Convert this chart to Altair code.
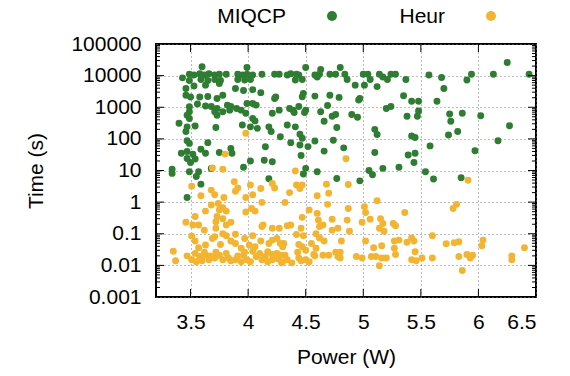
import altair as alt
import pandas as pd

# ---- data (Power in W, Time in s) ----
miqcp_power = [
    3.60, 3.99, 3.43, 3.49, 3.53, 3.58, 3.62, 3.66, 3.71, 3.75, 3.81, 3.91, 3.95, 3.99, 4.04, 4.12, 4.23, 4.27,
    3.49, 3.59, 3.65, 3.71, 3.76, 3.91, 3.97, 4.02,
    3.46, 3.53, 3.63, 3.75, 3.89, 3.96, 4.04, 4.11, 4.24,
    3.46, 3.50, 3.58, 3.65, 3.73, 3.78, 4.23,
    3.56, 3.49, 3.63, 3.68, 3.73, 3.82, 3.85, 3.90, 3.94, 3.99, 4.04, 4.07, 4.21, 4.27,
    3.49, 3.47, 3.49, 3.71, 3.73, 3.78, 3.84, 3.98, 4.04, 4.06,
    3.40, 3.47, 3.54, 3.46, 3.72, 3.95, 4.02, 4.08, 4.18, 4.20,
    3.47, 3.49, 3.65, 4.15, 4.28,
    3.42, 3.47, 3.52, 3.59, 3.63, 3.75, 3.85, 3.86, 3.47, 3.50, 3.54, 4.02, 4.14, 4.21,
    3.34, 3.34, 3.49, 3.57, 3.96, 3.55, 4.18, 3.68, 3.59, 3.47,
    4.50, 4.63, 4.80,
    4.34, 4.37, 4.42, 4.44, 4.41, 4.47, 4.58, 4.60, 4.62, 4.71, 4.76, 4.84, 4.86, 4.93, 5.00, 5.04, 5.01, 5.06,
    5.12, 5.14, 5.17, 5.21, 5.24, 5.28, 5.37,
    4.48, 4.47, 4.58, 4.71, 4.79, 4.97, 4.96, 5.35,
    4.36, 4.39, 4.40, 4.44, 4.50, 4.49, 4.63, 4.69, 4.73, 4.76, 4.90, 4.95, 5.20, 5.24, 5.38,
    4.34, 4.41, 4.66, 4.77, 4.45, 4.47, 4.37, 4.45, 4.52, 4.58, 4.74, 4.66, 4.83, 4.46, 5.10, 5.12, 5.10, 5.39,
    4.50, 4.48, 4.60, 4.77, 5.05, 5.08, 5.17, 5.31, 4.97,
    6.25, 5.57, 5.68, 5.94, 5.90, 6.13, 6.44, 5.70,
    5.42, 5.48, 5.64, 5.48, 5.47, 5.75, 5.86, 6.02, 5.76, 6.27, 5.82, 5.74, 5.42, 5.45, 6.17, 5.58, 5.97,
    5.45, 5.44, 5.54, 5.61, 5.85,
]
miqcp_time = [
    19000, 18000, 8500, 11000, 10500, 11500, 10500, 11500, 10500, 11000, 11000, 11000, 10500, 11000, 10500, 11000, 11000, 11000,
    7000, 7500, 7000, 7500, 7000, 7500, 7300, 7500,
    3900, 4700, 5000, 5600, 3900, 3400, 3600, 2900, 2100,
    2400, 2100, 2100, 2200, 1900, 2400, 1900,
    1260, 1040, 1100, 1050, 910, 1170, 1050, 910, 810, 1320, 1320, 1170, 650, 810,
    720, 560, 440, 720, 560, 720, 810, 650, 440, 370,
    310, 240, 255, 170, 230, 275, 240, 215, 240, 170,
    87, 72, 76, 56, 117,
    35, 40, 33, 47, 35, 37, 50, 35, 24, 18, 23, 20, 21, 19,
    11, 8.1, 9.1, 9.1, 12.6, 6.5, 5.5, 11.5, 3.7, 1.4,
    18000, 15600, 18000,
    10500, 11500, 11000, 10500, 7300, 7500, 10500, 9100, 11000, 11000, 11000, 11000, 7500, 5000, 11000, 11000, 5000, 7500,
    4500, 11000, 9100, 7500, 11000, 11000, 7500,
    2750, 2150, 2250, 2400, 2050, 1900, 1700, 2300,
    910, 810, 680, 1050, 810, 680, 720, 1130, 520, 590, 590, 480, 910, 1050, 520,
    275, 240, 360, 230, 140, 105, 76, 64, 57, 86, 91, 41, 52, 30, 200, 138, 37, 31,
    11.7, 7.8, 9.1, 5.6, 10, 7.3, 11.7, 12.6, 4.7,
    26000, 10500, 8700, 11000, 7300, 11000, 11000, 3900,
    1550, 1550, 1550, 760, 520, 610, 650, 540, 360, 260, 170, 133, 124, 110, 87, 60, 42,
    35, 18, 9.1, 5.4, 5.9,
]

heur_power = [
    3.98, 3.80,
    3.69, 3.78, 3.88, 3.51, 3.68, 3.59, 3.71, 3.79, 3.91, 3.89, 4.02, 4.11, 3.98, 4.04, 4.21, 4.23,
    4.12, 3.68, 3.74, 3.75, 3.63, 3.78, 3.81, 3.54, 3.73, 3.78, 3.72, 3.85, 3.98, 4.03, 4.06,
    3.46, 3.52, 3.57, 3.62, 3.81, 3.72, 3.78, 3.81, 3.89, 4.13, 4.12, 4.21, 4.27,
    3.51, 3.54, 3.57, 3.63, 3.69, 3.71, 3.76, 3.85, 3.89, 3.97, 4.04, 4.01, 3.94, 4.06, 4.11, 4.18, 4.21,
    4.25, 4.28, 4.17, 4.21, 3.35, 3.37,
    3.47, 3.51, 3.54, 3.55, 3.58, 3.60, 3.62, 3.63, 3.66, 3.67, 3.71, 3.72, 3.75, 3.78, 3.81, 3.83, 3.85,
    3.89, 3.91, 3.94, 3.96, 3.97, 3.99, 4.02, 4.04, 4.07, 4.10, 4.12, 4.15, 4.17, 4.21, 4.25, 4.26, 4.28, 4.29,
    4.85, 4.41,
    4.36, 4.42, 4.45, 4.47, 4.32, 4.60, 4.68, 4.70, 4.87, 4.69, 4.87, 5.01, 5.02, 5.12, 4.53, 4.60, 4.47,
    4.61, 4.73, 4.86, 5.06, 4.99, 5.15, 4.34, 4.37, 4.46, 4.62, 4.65, 4.73, 4.78, 4.88, 5.17, 5.14, 5.26,
    5.28, 5.36, 5.18,
    4.42, 4.48, 4.31, 4.30, 4.44, 4.47, 4.43, 4.50, 4.55, 4.59, 4.62, 4.66, 4.59, 4.57, 4.65, 4.70, 4.76,
    4.80, 4.81, 4.80, 4.78, 4.94, 4.99, 5.02, 5.09, 5.16, 5.07, 5.11, 5.16, 5.20, 5.14, 5.27, 5.31, 5.27,
    5.28, 5.38, 4.32, 4.34, 4.38, 4.30, 4.44, 4.46, 4.50, 4.53, 4.58,
    5.91, 5.81, 5.78, 5.42, 5.44, 5.60, 5.72, 5.79, 5.83, 6.04, 6.03, 6.40, 5.45, 5.42, 5.46, 5.51, 5.60,
    5.83, 5.90, 5.93, 5.95, 5.86, 6.29, 6.29,
]
heur_time = [
    150, 33,
    12, 11, 4.4, 3.2, 2.4, 1.6, 1.7, 1.4, 2.8, 2.2, 3.5, 2.7, 1.4, 1.7, 3.9, 2.8,
    0.98, 0.81, 0.91, 0.56, 0.52, 0.66, 0.52, 0.35, 0.35, 0.30, 0.24, 0.23, 0.49, 0.63, 0.52,
    0.23, 0.19, 0.19, 0.13, 0.19, 0.15, 0.10, 0.087, 0.096, 0.19, 0.17, 0.15, 0.15,
    0.085, 0.059, 0.036, 0.044, 0.071, 0.081, 0.046, 0.059, 0.049, 0.071, 0.087, 0.044, 0.035, 0.039, 0.059, 0.049, 0.063,
    0.071, 0.049, 0.027, 0.022, 0.028, 0.014,
    0.020, 0.015, 0.024, 0.013, 0.019, 0.014, 0.026, 0.021, 0.015, 0.020, 0.017, 0.026, 0.021, 0.015, 0.024, 0.017, 0.014,
    0.015, 0.020, 0.013, 0.021, 0.026, 0.015, 0.013, 0.028, 0.019, 0.024, 0.015, 0.019, 0.013, 0.015, 0.024, 0.016, 0.021, 0.012,
    23.6, 9.6,
    2.0, 3.5, 2.7, 3.5, 0.98, 1.6, 3.7, 1.9, 3.6, 0.85, 0.63, 0.71, 0.47, 1.1, 0.56, 0.44, 0.33,
    0.27, 0.29, 0.27, 0.29, 0.23, 0.30, 0.18, 0.19, 0.15, 0.17, 0.19, 0.13, 0.15, 0.12, 0.21, 0.15, 0.21,
    0.18, 0.47, 0.12,
    0.095, 0.087, 0.049, 0.039, 0.046, 0.039, 0.026, 0.030, 0.049, 0.10, 0.074, 0.059, 0.035, 0.022, 0.021, 0.021, 0.026,
    0.026, 0.059, 0.017, 0.019, 0.019, 0.017, 0.059, 0.036, 0.042, 0.019, 0.019, 0.017, 0.017, 0.0098, 0.059, 0.063, 0.035,
    0.022, 0.054, 0.021, 0.015, 0.012, 0.013, 0.017, 0.014, 0.015, 0.013, 0.020,
    4.9, 0.85, 0.63, 0.074, 0.059, 0.087, 0.048, 0.052, 0.056, 0.063, 0.042, 0.036, 0.027, 0.015, 0.014, 0.017, 0.017,
    0.019, 0.022, 0.017, 0.021, 0.0069, 0.020, 0.015,
]

series_names = ["MIQCP", "Heur"]
series_colors = ["#2e7d32", "#f3b531"]

x_domain = [3.2, 6.5]
y_domain = [0.001, 100000]
x_ticks = [3.5, 4, 4.5, 5, 5.5, 6, 6.5]
y_ticks = [0.001, 0.01, 0.1, 1, 10, 100, 1000, 10000, 100000]
y_minor_mult = [2, 3, 4, 5, 6, 7, 8, 9]

W, H = 380, 253

df = pd.DataFrame({
    "power": miqcp_power + heur_power,
    "time": miqcp_time + heur_time,
    "method": ["MIQCP"] * len(miqcp_power) + ["Heur"] * len(heur_power),
})

x_enc = alt.X(
    "power:Q",
    scale=alt.Scale(domain=x_domain, nice=False, zero=False),
    axis=alt.Axis(values=x_ticks, format="~g", title="Power (W)", grid=True,
                  gridColor="#7a7a7a", gridDash=[1, 3], gridWidth=1,
                  tickSize=0, domain=False, labelPadding=14, titlePadding=14,
                  labelFontSize=21, titleFontSize=21, labelColor="black",
                  titleColor="black", titleFontWeight="normal"),
)
y_enc = alt.Y(
    "time:Q",
    scale=alt.Scale(type="log", domain=y_domain, nice=False),
    axis=alt.Axis(values=y_ticks, format="~g", title="Time (s)", grid=True,
                  gridColor="#7a7a7a", gridDash=[1, 3], gridWidth=1,
                  tickSize=0, domain=False, labelPadding=15, titlePadding=24,
                  labelFontSize=21, titleFontSize=21, labelColor="black",
                  titleColor="black", titleFontWeight="normal"),
)

points = alt.Chart(df).mark_circle(size=48, opacity=1).encode(
    x=x_enc, y=y_enc,
    color=alt.Color("method:N", scale=alt.Scale(domain=series_names, range=series_colors),
                    legend=None),
)

# inward tick marks, as in the reference
ymaj = pd.DataFrame({"time": y_ticks[1:-1]})
ymin = pd.DataFrame({"time": [m * d for d in y_ticks[:-1] for m in y_minor_mult]})
xmaj = pd.DataFrame({"power": x_ticks[:-1]})
tk = dict(color="black", thickness=1, opacity=1)
t_yl = alt.Chart(ymaj).mark_tick(orient="horizontal", size=8, **tk).encode(y=y_enc, x=alt.value(4))
t_yr = alt.Chart(ymaj).mark_tick(orient="horizontal", size=8, **tk).encode(y=y_enc, x=alt.value(W - 4))
t_ml = alt.Chart(ymin).mark_tick(orient="horizontal", size=4, **tk).encode(y=y_enc, x=alt.value(2))
t_mr = alt.Chart(ymin).mark_tick(orient="horizontal", size=4, **tk).encode(y=y_enc, x=alt.value(W - 2))
t_xb = alt.Chart(xmaj).mark_tick(orient="vertical", size=8, **tk).encode(x=x_enc, y=alt.value(H - 4))
t_xt = alt.Chart(xmaj).mark_tick(orient="vertical", size=8, **tk).encode(x=x_enc, y=alt.value(4))

# legend drawn gnuplot-style: label first, then the symbol
legend_layers = []
label_right = [130, 289]
for i, (name, col) in enumerate(zip(series_names, series_colors)):
    one = pd.DataFrame({"method": [name]})
    legend_layers.append(
        alt.Chart(one).mark_text(align="right", baseline="middle", fontSize=21,
                                 color="black").encode(
            text="method:N", x=alt.value(label_right[i]), y=alt.value(-27))
    )
    legend_layers.append(
        alt.Chart(one).mark_circle(size=100, opacity=1, color=col).encode(
            x=alt.value(label_right[i] + 46), y=alt.value(-28))
    )

chart = alt.layer(
    points, t_yl, t_yr, t_ml, t_mr, t_xb, t_xt, *legend_layers
).properties(
    width=W, height=H,
    autosize=alt.AutoSizeParams(type="none"),
    padding={"left": 156, "top": 44, "right": 34, "bottom": 79},
    background="white",
).configure_view(stroke="black", strokeWidth=2)

chart.save("out.html", embed_options={"renderer": "svg", "actions": False})
